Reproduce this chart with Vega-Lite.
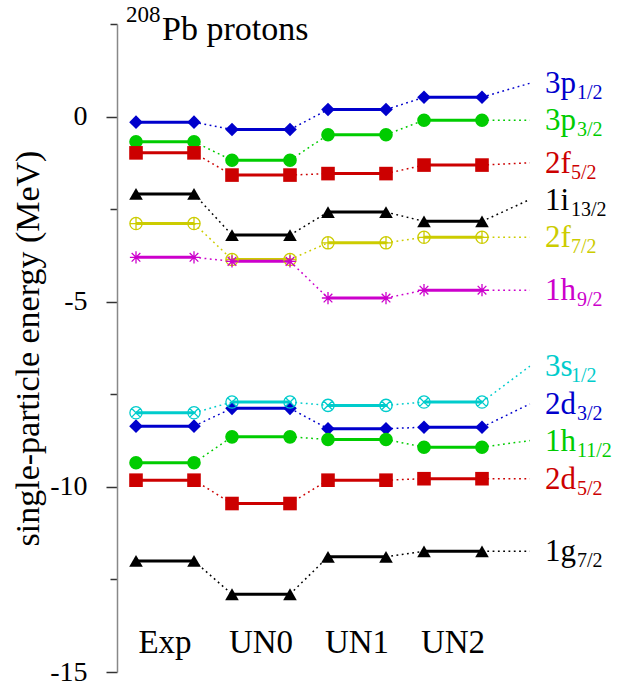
{
  "$schema": "https://vega.github.io/schema/vega-lite/v6.json",
  "width": 504,
  "height": 648,
  "autosize": {"type": "none"},
  "padding": {"left": 117, "top": 24, "right": 0, "bottom": 16},
  "background": "white",
  "config": {
    "font": "Liberation Serif",
    "view": {"stroke": null},
    "legend": {"disable": true},
    "axis": {"grid": false, "labelFont": "Liberation Serif", "titleFont": "Liberation Serif", "labelColor": "black", "titleColor": "black", "titleFontWeight": "normal"},
    "text": {"font": "Liberation Serif"}
  },
  "layer": [
    {
      "data": {
        "values": [
          {"orbital": "3p1/2", "main": "3p", "sub": "1/2", "Exp": -0.15, "UN0": -0.35, "UN1": 0.19, "UN2": 0.52, "label": 0.9},
          {"orbital": "3p3/2", "main": "3p", "sub": "3/2", "Exp": -0.68, "UN0": -1.18, "UN1": -0.49, "UN2": -0.10, "label": -0.10},
          {"orbital": "2f5/2", "main": "2f", "sub": "5/2", "Exp": -0.98, "UN0": -1.58, "UN1": -1.54, "UN2": -1.31, "label": -1.25},
          {"orbital": "1i13/2", "main": "1i", "sub": "13/2", "Exp": -2.09, "UN0": -3.20, "UN1": -2.58, "UN2": -2.83, "label": -2.24},
          {"orbital": "2f7/2", "main": "2f", "sub": "7/2", "Exp": -2.89, "UN0": -3.86, "UN1": -3.41, "UN2": -3.26, "label": -3.26},
          {"orbital": "1h9/2", "main": "1h", "sub": "9/2", "Exp": -3.80, "UN0": -3.91, "UN1": -4.90, "UN2": -4.69, "label": -4.69},
          {"orbital": "3s1/2", "main": "3s", "sub": "1/2", "Exp": -8.00, "UN0": -7.71, "UN1": -7.80, "UN2": -7.71, "label": -6.74},
          {"orbital": "2d3/2", "main": "2d", "sub": "3/2", "Exp": -8.36, "UN0": -7.88, "UN1": -8.43, "UN2": -8.39, "label": -7.76},
          {"orbital": "1h11/2", "main": "1h", "sub": "11/2", "Exp": -9.35, "UN0": -8.65, "UN1": -8.72, "UN2": -8.93, "label": -8.75},
          {"orbital": "2d5/2", "main": "2d", "sub": "5/2", "Exp": -9.82, "UN0": -10.45, "UN1": -9.82, "UN2": -9.78, "label": -9.78},
          {"orbital": "1g7/2", "main": "1g", "sub": "7/2", "Exp": -12.0, "UN0": -12.9, "UN1": -11.89, "UN2": -11.74, "label": -11.74}
        ]
      },
      "transform": [
        {"fold": ["Exp", "UN0", "UN1", "UN2", "label"], "as": ["model", "energy"]},
        {"window": [{"op": "lead", "field": "model", "as": "next_model"}, {"op": "lead", "field": "energy", "as": "next_energy"}], "groupby": ["orbital"], "sort": [{"field": "model", "order": "ascending"}]}
      ],
      "layer": [
        {
          "transform": [{"filter": "datum.next_model != null && datum.next_model !== 'label'"}],
          "mark": {"type": "rule", "strokeDash": [1.8, 3.5], "strokeWidth": 1.5},
          "encoding": {
            "x": {"field": "model", "type": "nominal", "bandPosition": 1,
              "scale": {"type": "band", "domain": ["Exp", "UN0", "UN1", "UN2", "label"], "range": [19, 461], "paddingInner": 0.39583, "paddingOuter": 0, "round": false},
              "axis": {"values": ["Exp", "UN0", "UN1", "UN2"], "domain": false, "ticks": false, "labelFont": "Liberation Serif", "labelFontSize": 33, "labelBaseline": "alphabetic", "labelPadding": -20, "labelAngle": 0, "title": null}},
            "x2": {"field": "next_model", "bandPosition": 0},
            "y": {"field": "energy", "type": "quantitative",
              "scale": {"domain": [-15, 2.5], "nice": false, "zero": false},
              "axis": {"values": [-15, -12.5, -10, -7.5, -5, -2.5, 0, 2.5], "labelExpr": "datum.value % 5 === 0 ? '' + datum.value : ''", "title": "single-particle energy (MeV)", "titleFont": "Liberation Serif", "titleFontSize": 34, "titlePadding": 4, "labelFont": "Liberation Serif", "labelFontSize": 28, "labelPadding": 19, "tickSize": {"condition": {"test": "datum.value % 5 === 0", "value": 11}, "value": 7}, "tickColor": "#333", "tickWidth": 1.5, "domainColor": "#888", "domainWidth": 1.5}},
            "y2": {"field": "next_energy"},
            "color": {"field": "orbital", "type": "nominal",
              "scale": {"domain": ["3p1/2", "3p3/2", "2f5/2", "1i13/2", "2f7/2", "1h9/2", "3s1/2", "2d3/2", "1h11/2", "2d5/2", "1g7/2"],
                "range": ["#0000cc", "#00cc00", "#cc0000", "#000000", "#cccc00", "#cc00cc", "#00cccc", "#0000cc", "#00cc00", "#cc0000", "#000000"]}}
          }
        },
        {
          "transform": [{"filter": "datum.next_model === 'label'"}],
          "mark": {"type": "rule", "strokeDash": [1.8, 3.5], "strokeWidth": 1.5},
          "encoding": {
            "x": {"field": "model", "type": "nominal", "bandPosition": 1},
            "x2": {"field": "next_model", "bandPosition": 0.17},
            "y": {"field": "energy", "type": "quantitative"},
            "y2": {"field": "next_energy"},
            "color": {"field": "orbital", "type": "nominal"}
          }
        },
        {
          "transform": [{"filter": "datum.model !== 'label'"}],
          "mark": {"type": "rule", "strokeWidth": 3},
          "encoding": {
            "x": {"field": "model", "type": "nominal", "bandPosition": 0},
            "x2": {"field": "model", "bandPosition": 1},
            "y": {"field": "energy", "type": "quantitative"},
            "color": {"field": "orbital", "type": "nominal"}
          }
        },
        {
          "transform": [{"filter": "datum.model !== 'label' && indexof(['2f7/2','1h9/2','3s1/2'], datum.orbital) < 0"}],
          "mark": {"type": "point", "filled": true, "size": 185, "opacity": 1},
          "encoding": {
            "x": {"field": "model", "type": "nominal", "bandPosition": 0},
            "y": {"field": "energy", "type": "quantitative"},
            "color": {"field": "orbital", "type": "nominal"},
            "shape": {"field": "orbital", "type": "nominal",
              "scale": {"domain": ["3p1/2", "3p3/2", "2f5/2", "1i13/2", "2f7/2", "1h9/2", "3s1/2", "2d3/2", "1h11/2", "2d5/2", "1g7/2"],
                "range": ["diamond", "circle", "square", "triangle-up",
                  "M-1,0A1,1,0,1,1,1,0A1,1,0,1,1,-1,0ZM-1,0L1,0M0,-1L0,1",
                  "M-1,0L1,0M0,-1L0,1M-0.707,-0.707L0.707,0.707M-0.707,0.707L0.707,-0.707",
                  "M-1,0A1,1,0,1,1,1,0A1,1,0,1,1,-1,0ZM-0.707,-0.707L0.707,0.707M-0.707,0.707L0.707,-0.707",
                  "diamond", "circle", "square", "triangle-up"]}}
          }
        },
        {
          "transform": [{"filter": "datum.model !== 'label' && indexof(['2f7/2','1h9/2','3s1/2'], datum.orbital) < 0"}],
          "mark": {"type": "point", "filled": true, "size": 185, "opacity": 1},
          "encoding": {
            "x": {"field": "model", "type": "nominal", "bandPosition": 1},
            "y": {"field": "energy", "type": "quantitative"},
            "color": {"field": "orbital", "type": "nominal"},
            "shape": {"field": "orbital", "type": "nominal"}
          }
        },
        {
          "transform": [{"filter": "datum.model !== 'label' && indexof(['2f7/2','1h9/2','3s1/2'], datum.orbital) >= 0"}],
          "mark": {"type": "point", "filled": false, "size": 150, "strokeWidth": 1.3, "opacity": 1},
          "encoding": {
            "x": {"field": "model", "type": "nominal", "bandPosition": 0},
            "y": {"field": "energy", "type": "quantitative"},
            "color": {"field": "orbital", "type": "nominal"},
            "shape": {"field": "orbital", "type": "nominal"}
          }
        },
        {
          "transform": [{"filter": "datum.model !== 'label' && indexof(['2f7/2','1h9/2','3s1/2'], datum.orbital) >= 0"}],
          "mark": {"type": "point", "filled": false, "size": 150, "strokeWidth": 1.3, "opacity": 1},
          "encoding": {
            "x": {"field": "model", "type": "nominal", "bandPosition": 1},
            "y": {"field": "energy", "type": "quantitative"},
            "color": {"field": "orbital", "type": "nominal"},
            "shape": {"field": "orbital", "type": "nominal"}
          }
        },
        {
          "transform": [{"filter": "datum.model === 'label'"}],
          "mark": {"type": "text", "align": "left", "baseline": "alphabetic", "dx": 25, "dy": 10, "fontSize": 31, "font": "Liberation Serif"},
          "encoding": {
            "x": {"field": "model", "type": "nominal", "bandPosition": 0},
            "y": {"field": "energy", "type": "quantitative"},
            "text": {"field": "main"},
            "color": {"field": "orbital", "type": "nominal"}
          }
        },
        {
          "transform": [{"filter": "datum.model === 'label' && indexof(['1h','2d','1g','3p'], datum.main) >= 0"}],
          "mark": {"type": "text", "align": "left", "baseline": "alphabetic", "dx": 57, "dy": 16, "fontSize": 20, "font": "Liberation Serif"},
          "encoding": {
            "x": {"field": "model", "type": "nominal", "bandPosition": 0},
            "y": {"field": "energy", "type": "quantitative"},
            "text": {"field": "sub"},
            "color": {"field": "orbital", "type": "nominal"}
          }
        },
        {
          "transform": [{"filter": "datum.model === 'label' && indexof(['1h','2d','1g','3p'], datum.main) < 0"}],
          "mark": {"type": "text", "align": "left", "baseline": "alphabetic", "dx": 51, "dy": 16, "fontSize": 20, "font": "Liberation Serif"},
          "encoding": {
            "x": {"field": "model", "type": "nominal", "bandPosition": 0},
            "y": {"field": "energy", "type": "quantitative"},
            "text": {"field": "sub"},
            "color": {"field": "orbital", "type": "nominal"}
          }
        }
      ]
    },
    {
      "data": {"values": [{"t": "208"}]},
      "mark": {"type": "text", "align": "left", "baseline": "alphabetic", "dx": -39, "dy": -2, "fontSize": 23, "font": "Liberation Serif", "color": "black"},
      "encoding": {
        "x": {"datum": "Exp", "type": "nominal"},
        "y": {"datum": 2.5, "type": "quantitative"},
        "text": {"field": "t"}
      }
    },
    {
      "data": {"values": [{"t": "Pb protons"}]},
      "mark": {"type": "text", "align": "left", "baseline": "alphabetic", "dx": -3, "dy": 16, "fontSize": 34, "font": "Liberation Serif", "color": "black"},
      "encoding": {
        "x": {"datum": "Exp", "type": "nominal"},
        "y": {"datum": 2.5, "type": "quantitative"},
        "text": {"field": "t"}
      }
    }
  ]
}
